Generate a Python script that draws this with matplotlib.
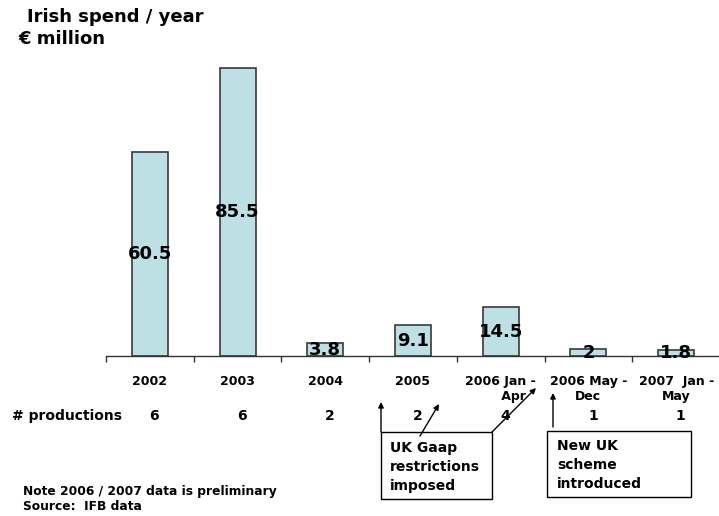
import matplotlib
matplotlib.use("Agg")
import matplotlib.pyplot as plt
from matplotlib.patches import Rectangle, FancyArrowPatch

# Data
periods = ["2002", "2003", "2004", "2005", "2006 Jan -\n      Apr",
           "2006 May -\nDec", "2007  Jan -\nMay"]
spend = [60.5, 85.5, 3.8, 9.1, 14.5, 2, 1.8]
spend_labels = ["60.5", "85.5", "3.8", "9.1", "14.5", "2", "1.8"]
productions = [6, 6, 2, 2, 4, 1, 1]

W, H = 719, 516
FONT = "DejaVu Sans"
BAR_FACE = "#bce0e3"
BAR_EDGE = "#3a3a3a"

fig = plt.figure(figsize=(W / 100, H / 100), dpi=100)


def fx(px):
    return px / W


def fy(py):
    return 1 - py / H


# Plot area: baseline at y=356 px, categories 87.7 px wide starting at x=106
ax = fig.add_axes([fx(106), fy(356), 614 / W, 303.3 / H])
x = list(range(len(spend)))
ax.bar(x, spend, width=0.41, color=BAR_FACE, edgecolor=BAR_EDGE,
       linewidth=1.2, zorder=2)
ax.set_xlim(-0.5, len(spend) - 0.5)
ax.set_ylim(0, 90)

for i, (v, lab) in enumerate(zip(spend, spend_labels)):
    ax.text(i, v / 2, lab, ha="center", va="center", fontsize=13,
            fontweight="bold", family=FONT, color="black", zorder=3)

for s in ("left", "top", "right"):
    ax.spines[s].set_visible(False)
ax.spines["bottom"].set_color("#333333")
ax.spines["bottom"].set_linewidth(1.0)
ax.set_yticks([])

ax.set_xticks(x)
ax.set_xticklabels(periods, fontsize=9, fontweight="bold", family=FONT,
                   linespacing=1.2)
ax.tick_params(axis="x", which="major", length=0, pad=14)
ax.set_xticks([i - 0.5 for i in range(len(spend) + 1)], minor=True)
ax.tick_params(axis="x", which="minor", length=4, width=1.0,
               color="#333333", direction="out")

# Title
fig.text(fx(27), fy(22), "Irish spend / year", fontsize=13,
         fontweight="bold", family=FONT, va="baseline", ha="left")
fig.text(fx(18), fy(44), "\u20ac million", fontsize=13,
         fontweight="bold", family=FONT, va="baseline", ha="left")

# Number of productions row
fig.text(fx(12), fy(416), "# productions", fontsize=10, fontweight="bold",
         family=FONT, va="center", ha="left")
prod_y = ax.transData.inverted().transform(
    fig.transFigure.transform((0, fy(416))))[1]
for i, n in enumerate(productions):
    ax.text(i + 0.05, prod_y, str(n), fontsize=10, fontweight="bold",
            family=FONT, ha="center", va="center", clip_on=False)

# Notes
fig.text(fx(23), fy(491), "Note 2006 / 2007 data is preliminary",
         fontsize=8.8, fontweight="bold", family=FONT, va="center", ha="left")
fig.text(fx(23), fy(506.5), "Source:  IFB data", fontsize=8.8,
         fontweight="bold", family=FONT, va="center", ha="left")

# Callout boxes
boxes = [
    ((381, 432, 492, 499), (390, 441), "UK Gaap\nrestrictions\nimposed"),
    ((547, 431, 691, 497), (557, 439.5), "New UK\nscheme\nintroduced"),
]
for (x0, y0, x1, y1), (tx, ty), txt in boxes:
    fig.patches.append(Rectangle((fx(x0), fy(y1)), fx(x1) - fx(x0),
                                 fy(y0) - fy(y1), transform=fig.transFigure,
                                 fill=False, edgecolor="black", linewidth=1.0))
    fig.text(fx(tx), fy(ty), txt, fontsize=10, fontweight="bold",
             family=FONT, va="top", ha="left", linespacing=1.45)

# Arrows
arrows = [
    ((381, 432), (381, 402)),
    ((420, 436), (439, 404)),
    ((492, 432), (536, 388)),
    ((553, 427), (553, 393)),
]
for (sx, sy), (ex, ey) in arrows:
    fig.add_artist(FancyArrowPatch(
        (fx(sx), fy(sy)), (fx(ex), fy(ey)), transform=fig.transFigure,
        arrowstyle="-|>", mutation_scale=8, linewidth=1.0, color="black",
        shrinkA=0, shrinkB=0))

fig.savefig("out.png", dpi=100)
